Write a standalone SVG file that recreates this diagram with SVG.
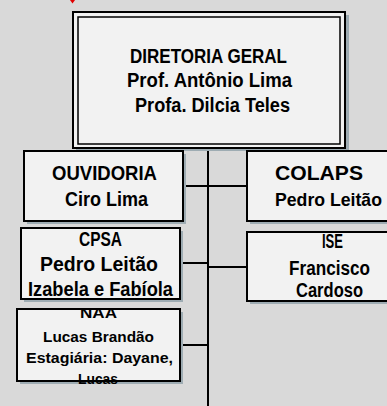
<svg xmlns="http://www.w3.org/2000/svg" width="387" height="406" viewBox="0 0 387 406">
<style>
.bg{fill:#d9d9d9}
.box{fill:#f2f2f2;stroke:#000;stroke-width:2}
.sh{fill:#9eacb3}
.t{font-family:"Liberation Sans",Arial,sans-serif;font-weight:bold;font-size:19.5px;fill:#000;text-anchor:middle}
.s{font-size:15.5px}
.ln{stroke:#000;stroke-width:2;fill:none}
</style>
<rect class="bg" x="0" y="0" width="387" height="406"/>
<path d="M70,0 L75,0 L72.5,3.5 Z" fill="#e00000"/>
<g id="connectors">
<line class="ln" x1="208" y1="148" x2="208" y2="406"/>
<line class="ln" x1="183" y1="186" x2="247" y2="186"/>
<line class="ln" x1="180" y1="263" x2="208" y2="263"/>
<line class="ln" x1="208" y1="267" x2="247" y2="267"/>
<line class="ln" x1="180" y1="345" x2="208" y2="345"/>
</g>
<g id="diretoria">
<rect class="sh" x="76" y="15" width="273" height="136"/>
<rect class="box" x="73" y="12" width="272" height="136"/>
<rect fill="none" stroke="#000" stroke-width="1.5" x="78" y="17" width="262" height="127"/>
<text class="t" x="208.5" y="63" textLength="157" lengthAdjust="spacingAndGlyphs">DIRETORIA GERAL</text>
<text class="t" x="209.5" y="87" textLength="165" lengthAdjust="spacingAndGlyphs">Prof. Antônio Lima</text>
<text class="t" x="212.5" y="112" textLength="155" lengthAdjust="spacingAndGlyphs">Profa. Dilcia Teles</text>
</g>
<g id="ouvidoria">
<rect class="sh" x="27" y="154" width="159" height="70"/>
<rect class="box" x="24" y="151" width="159" height="70"/>
<text class="t" x="104.5" y="180" textLength="105" lengthAdjust="spacingAndGlyphs">OUVIDORIA</text>
<text class="t" x="106.5" y="206" textLength="83" lengthAdjust="spacingAndGlyphs">Ciro Lima</text>
</g>
<g id="colaps">
<rect class="sh" x="250" y="154" width="170" height="70"/>
<rect class="box" x="247" y="151" width="170" height="70"/>
<text class="t" x="319" y="180" textLength="88" lengthAdjust="spacingAndGlyphs">COLAPS</text>
<text class="t" x="328.5" y="206" style="font-size:18.5px" textLength="107" lengthAdjust="spacingAndGlyphs">Pedro Leitão</text>
</g>
<g id="cpsa">
<rect class="sh" x="24" y="231" width="159" height="71"/>
<rect class="box" x="21" y="228" width="159" height="71"/>
<text class="t" x="100.5" y="246" textLength="43" lengthAdjust="spacingAndGlyphs">CPSA</text>
<text class="t" x="99" y="271" textLength="118" lengthAdjust="spacingAndGlyphs">Pedro Leitão</text>
<text class="t" x="100.5" y="296" textLength="145" lengthAdjust="spacingAndGlyphs">Izabela e Fabíola</text>
</g>
<g id="ise">
<rect class="sh" x="250" y="235" width="170" height="69"/>
<rect class="box" x="247" y="232" width="170" height="69"/>
<text class="t" x="332.5" y="248" textLength="21" lengthAdjust="spacingAndGlyphs">ISE</text>
<text class="t" x="329.5" y="275" textLength="81" lengthAdjust="spacingAndGlyphs">Francisco</text>
<text class="t" x="329.5" y="297" textLength="67" lengthAdjust="spacingAndGlyphs">Cardoso</text>
</g>
<g id="naa">
<rect class="sh" x="20" y="312" width="163" height="72"/>
<rect class="box" x="17" y="309" width="163" height="72"/>
<text class="t s" x="98.5" y="318" textLength="37" lengthAdjust="spacingAndGlyphs">NAA</text>
<text class="t s" x="98.5" y="342" textLength="111" lengthAdjust="spacingAndGlyphs">Lucas Brandão</text>
<text class="t s" x="99.5" y="363" textLength="147" lengthAdjust="spacingAndGlyphs">Estagiária: Dayane,</text>
<text class="t s" x="98" y="384" textLength="40" lengthAdjust="spacingAndGlyphs">Lucas</text>
</g>
</svg>
